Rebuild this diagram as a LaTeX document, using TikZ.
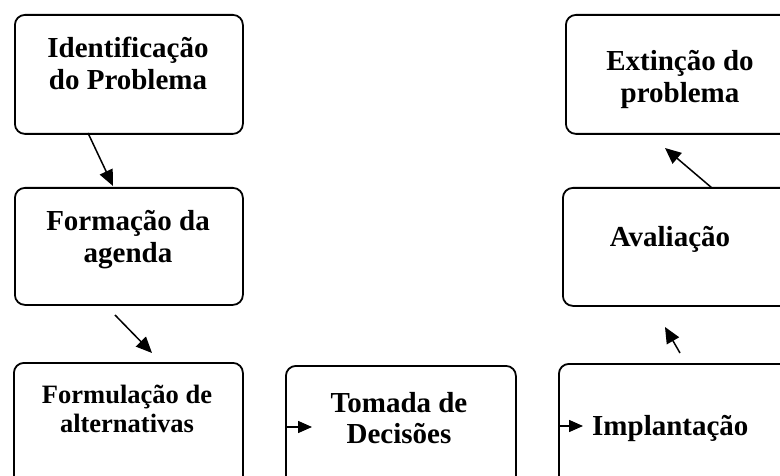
\documentclass[tikz,border=0pt]{standalone}
\usepackage{fontspec}
\setmainfont{Liberation Serif}
\usetikzlibrary{arrows.meta}
\begin{document}
\begin{tikzpicture}[x=1pt,y=-1pt,
  box/.style={draw=black, line width=1.8pt, rounded corners=10pt, inner sep=0pt, anchor=north west},
  lbl/.style={anchor=base, inner sep=0pt, font=\bfseries\fontsize{29}{32}\selectfont},
  lbls/.style={anchor=base, inner sep=0pt, font=\bfseries\fontsize{26.5}{29}\selectfont},
  conn/.style={line width=1.5pt, -{Triangle[length=16pt,width=14pt]}},
  smallconn/.style={line width=1.5pt, -{Triangle[length=14pt,width=12pt]}}]
\useasboundingbox (0,0) rectangle (780,476);
\clip (0,0) rectangle (780,476);
% boxes
\node[box, minimum width=228pt, minimum height=119pt] (b1) at (14,14) {};
\node[box, minimum width=228pt, minimum height=117pt] (b2) at (14,187) {};
\node[box, minimum width=229pt, minimum height=130pt] (b3) at (13,362) {};
\node[box, minimum width=230pt, minimum height=130pt] (b4) at (285,365) {};
\node[box, minimum width=232pt, minimum height=130pt] (b5) at (558,363) {};
\node[box, minimum width=230pt, minimum height=118pt] (b6) at (562,187) {};
\node[box, minimum width=228pt, minimum height=119pt] (b7) at (565,14) {};
% texts
\node[lbl] (t1a) at (128,58) {Identificação};
\node[lbl] (t1b) at (128,90) {do Problema};
\node[lbl] (t2a) at (128,230) {Formação da};
\node[lbl] (t2b) at (128,262) {agenda};
\node[lbls] (t3a) at (127,403) {Formulação de};
\node[lbls] (t3b) at (127,432) {alternativas};
\node[lbl] (t4a) at (399,412) {Tomada de};
\node[lbl] (t4b) at (399,443) {Decisões};
\node[lbl, anchor=base west] (t5) at (592,435) {Implantação};
\node[lbl] (t6) at (670,247) {Avaliação};
\node[lbl] (t7a) at (680,71) {Extinção do};
\node[lbl] (t7b) at (680,103) {problema};
% connector ends
\coordinate (a1s) at (88,133);
\coordinate (a1e) at (113,186);
\coordinate (a2s) at (115,315);
\coordinate (a2e) at (152,353);
\coordinate (a3s) at (287,427);
\coordinate (a3e) at (312,427);
\coordinate (a4s) at (559,426);
\coordinate (a4e) at (583,426);
\coordinate (a5s) at (680,353);
\coordinate (a5e) at (665,327);
\coordinate (a6s) at (712,188);
\coordinate (a6e) at (665,148);
\draw[conn] (a1s) -- (a1e);
\draw[conn] (a2s) -- (a2e);
\draw[smallconn] (a3s) -- (a3e);
\draw[smallconn] (a4s) -- (a4e);
\draw[conn] (a5s) -- (a5e);
\draw[conn] (a6s) -- (a6e);
\end{tikzpicture}
\end{document}
